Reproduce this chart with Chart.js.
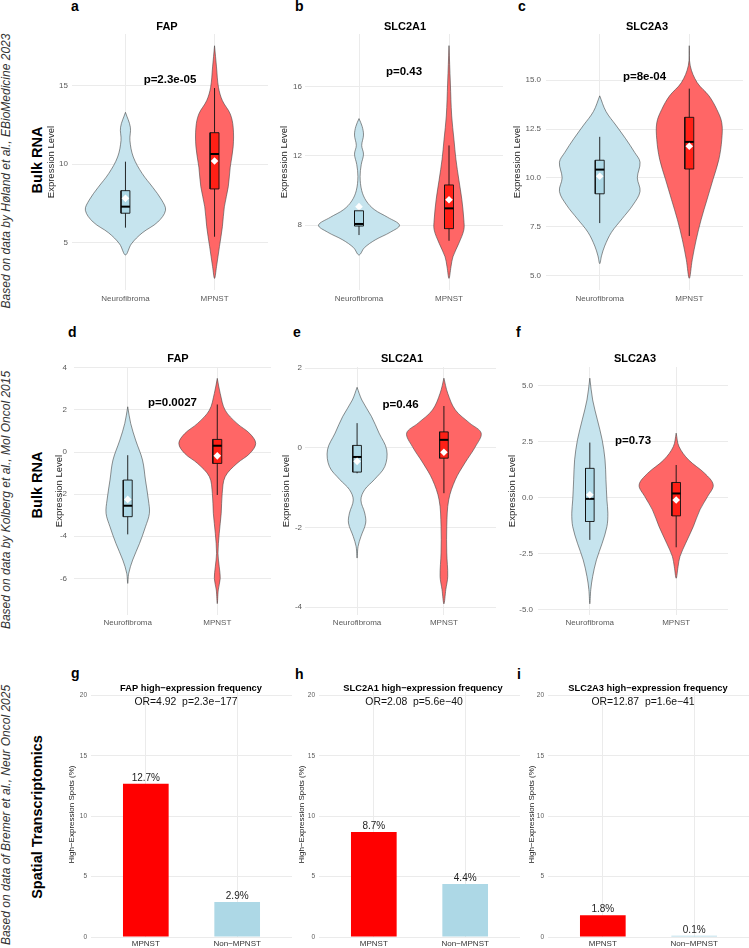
<!DOCTYPE html>
<html>
<head>
<meta charset="utf-8">
<script src="https://cdn.jsdelivr.net/npm/chart.js"></script>
<style>
html, body { margin: 0; padding: 0; background: #fff; }
#page { position: relative; width: 749px; height: 948px; overflow: hidden; font-family: "Liberation Sans", Arial, sans-serif; }
canvas { position: absolute; }
.side { position: absolute; white-space: nowrap; transform: translate(-50%, -50%) rotate(-90deg); }
.src { font-style: italic; font-size: 12px; color: #333; }
.sec { font-weight: bold; font-size: 14.5px; color: #000; }
.lt { position: absolute; font-weight: bold; font-size: 14px; line-height: 14px; color: #000; }
</style>
</head>
<body>
<div id="page">
  <div class="side src" style="left:5.5px;top:171px">Based on data by Høland et al., EBioMedicine 2023</div>
  <div class="side sec" style="left:37px;top:160px">Bulk RNA</div>
  <div class="side src" style="left:5.5px;top:500px">Based on data by Kolberg et al., Mol Oncol 2015</div>
  <div class="side sec" style="left:37px;top:485px">Bulk RNA</div>
  <div class="side src" style="left:5.5px;top:815px">Based on data of Bremer et al., Neur Oncol 2025</div>
  <div class="side sec" style="left:37px;top:817px">Spatial Transcriptomics</div>

  <div class="lt" style="left:71px;top:-1.5px">a</div>
  <div class="lt" style="left:295px;top:-1.5px">b</div>
  <div class="lt" style="left:518px;top:-1.5px">c</div>
  <div class="lt" style="left:68px;top:325px">d</div>
  <div class="lt" style="left:293px;top:325px">e</div>
  <div class="lt" style="left:516px;top:325px">f</div>
  <div class="lt" style="left:71px;top:666px">g</div>
  <div class="lt" style="left:295px;top:667px">h</div>
  <div class="lt" style="left:517px;top:667px">i</div>
</div>
<script>
const GROUPS = ['Neurofibroma', 'MPNST'];
const BAR_GROUPS = ['MPNST', 'Non\u2212MPNST'];
const GENES = ['FAP', 'SLC2A1', 'SLC2A3'];

// violin outlines, top to bottom: [expression level, half width in x units]
const holandFapNf = [[13.3,0],[12.35,0.055],[11.5,0.05],[10.45,0.088],[9.4,0.187],[8.5,0.308],[7.7,0.407],[7.05,0.45],[6.3,0.363],[5.6,0.187],[4.9,0.066],[4.2,0]];
const holandFapMp = [[17.55,0],[16.2,0.022],[14.9,0.044],[14.05,0.088],[13.2,0.176],[12.35,0.209],[11.1,0.209],[9.8,0.176],[8.55,0.154],[7.27,0.11],[6.0,0.088],[4.73,0.055],[3.45,0.022],[2.7,0]];
const holandA1Nf = [[14.15,0],[13.7,0.035],[13.2,0.05],[12.6,0.03],[12.1,0.05],[11.5,0.025],[10.8,0.012],[10.0,0.03],[9.4,0.08],[8.9,0.17],[8.45,0.32],[8.0,0.45],[7.6,0.35],[7.15,0.18],[6.7,0.06],[6.28,0]];
const holandA1Mp = [[18.36,0],[16.2,0.015],[14.3,0.03],[12.95,0.055],[11.8,0.077],[10.6,0.11],[9.47,0.143],[8.3,0.165],[7.73,0.165],[6.96,0.11],[6.18,0.044],[5.6,0.022],[4.93,0]];
const holandA3Nf = [[14.2,0],[13.4,0.07],[12.7,0.18],[12.0,0.29],[11.3,0.39],[10.8,0.45],[10.0,0.42],[9.3,0.45],[8.6,0.37],[7.9,0.25],[7.2,0.13],[6.5,0.055],[6.0,0.02],[5.6,0]];
const holandA3Mp = [[16.77,0],[15.74,0.011],[14.88,0.088],[14.2,0.22],[13.5,0.308],[12.82,0.363],[11.96,0.363],[10.93,0.33],[9.9,0.264],[8.88,0.198],[7.85,0.132],[6.82,0.077],[5.8,0.033],[4.85,0]];
const kolbergFapNf = [[2.15,0],[1.36,0.033],[0.57,0.088],[-0.38,0.165],[-1.33,0.198],[-2.28,0.231],[-2.91,0.242],[-3.55,0.198],[-4.34,0.132],[-5.13,0.055],[-5.76,0.011],[-6.24,0]];
const kolbergFapMp = [[3.5,0],[2.78,0.033],[1.99,0.088],[1.36,0.22],[0.88,0.363],[0.41,0.429],[-0.07,0.363],[-0.54,0.22],[-1.17,0.088],[-1.97,0.055],[-2.91,0.044],[-3.86,0.022],[-4.81,0.008],[-5.45,0.022],[-6.0,0.033],[-6.55,0.011],[-7.2,0]];
const kolbergA1Nf = [[1.52,0],[1.2,0.055],[0.79,0.165],[0.37,0.253],[-0.05,0.341],[-0.47,0.319],[-0.8,0.198],[-1.05,0.088],[-1.31,0.044],[-1.64,0.088],[-1.89,0.099],[-2.23,0.044],[-2.48,0.011],[-2.77,0]];
const kolbergA1Mp = [[1.75,0],[1.37,0.044],[0.95,0.132],[0.62,0.297],[0.37,0.429],[0.03,0.363],[-0.38,0.242],[-0.8,0.132],[-1.31,0.055],[-1.97,0.033],[-2.64,0.033],[-3.23,0.044],[-3.56,0.022],[-3.92,0]];
const kolbergA3Nf = [[5.33,0],[4.36,0.033],[3.47,0.088],[2.58,0.143],[1.69,0.176],[0.8,0.187],[-0.1,0.198],[-0.69,0.209],[-1.29,0.198],[-2.03,0.143],[-2.77,0.077],[-3.51,0.033],[-4.1,0.011],[-4.73,0]];
const kolbergA3Mp = [[2.88,0],[2.28,0.033],[1.69,0.143],[1.09,0.33],[0.57,0.429],[0.05,0.363],[-0.54,0.275],[-1.29,0.198],[-2.03,0.11],[-2.62,0.044],[-3.07,0.022],[-3.59,0]];

// box stats: [lower whisker, q1, median, q3, upper whisker, mean]
const holandFapNfBox = [5.94, 6.86, 7.28, 8.3, 10.15, 7.81];
const holandFapMpBox = [5.36, 8.41, 10.64, 12.0, 14.85, 10.19];
const holandA1NfBox = [7.43, 7.95, 8.07, 8.83, 9.1, 9.07];
const holandA1MpBox = [7.1, 7.8, 8.97, 10.32, 12.6, 9.47];
const holandA3NfBox = [7.68, 9.18, 10.42, 10.9, 12.1, 10.08];
const holandA3MpBox = [7.02, 10.45, 11.84, 13.1, 14.57, 11.62];
const kolbergFapNfBox = [-3.91, -3.07, -2.55, -1.33, -0.15, -2.25];
const kolbergFapMpBox = [-2.04, -0.54, 0.3, 0.6, 2.26, -0.18];
const kolbergA1NfBox = [-0.64, -0.61, -0.23, 0.06, 0.62, -0.34];
const kolbergA1MpBox = [-1.14, -0.26, 0.2, 0.4, 1.05, -0.11];
const kolbergA3NfBox = [-1.88, -1.06, -0.05, 1.31, 2.46, 0.13];
const kolbergA3MpBox = [-2.21, -0.81, 0.19, 0.68, 1.46, -0.1];

const P_LABELS = ['p=2.3e-05', 'p=0.43', 'p=8e-04', 'p=0.0027', 'p=0.46', 'p=0.73'];
const P_Y = [15.17, 16.67, 15.01, 2.19, 1.0, 2.4];

const TICKS_HOLAND = [[5, 10, 15], [8, 12, 16], [5, 7.5, 10, 12.5, 15]];
const TICKS_KOLBERG = [[-6, -4, -2, 0, 2, 4], [-4, -2, 0, 2], [-5, -2.5, 0, 2.5, 5]];
const RANGE_HOLAND = [[1.96, 18.3], [4.26, 19.03], [4.25, 17.37]];
const RANGE_KOLBERG = [[-7.74, 4.04], [-4.2, 2.03], [-5.23, 5.83]];

// spatial transcriptomics: % high-expression spots
const HIGH_MPNST = [12.7, 8.7, 1.8];
const HIGH_NON = [2.9, 4.4, 0.1];
const ODDS = ['4.92', '2.08', '12.87'];
const ODDS_P = ['2.3e\u2212177', '5.6e\u221240', '1.6e\u221241'];
const TICKS_BAR = [0, 5, 10, 15, 20];
const RANGE_BAR = [0, 20.3];

// layout (page px)
const FONT = '"Liberation Sans", Arial, sans-serif';
const ROWS = [
  {top: 0, bottom: 310, xh: 20, xpad: 4},
  {top: 318, bottom: 632, xh: 17, xpad: 3},
  {top: 655, bottom: 948, xh: 11, xpad: 2}
];
const LAYOUT = [
  [{l: 72, r: 272, t: 34, b: 290, tx: 52, pad: 4, cx: 167}, {l: 305, r: 507, t: 34, b: 290, tx: 285, pad: 3, cx: 405}, {l: 546, r: 747, t: 34, b: 290, tx: 518, pad: 5, cx: 647}],
  [{l: 74, r: 275, t: 367, b: 615, tx: 60, pad: 7, cx: 178}, {l: 305, r: 500, t: 367, b: 615, tx: 287, pad: 3, cx: 402}, {l: 538, r: 732, t: 367, b: 615, tx: 513, pad: 5, cx: 635}],
  [{l: 91, r: 292, t: 692, b: 937, tx: 72, pad: 4, cx: 191}, {l: 319, r: 520, t: 692, b: 937, tx: 302, pad: 4, cx: 423}, {l: 548, r: 749, t: 692, b: 937, tx: 532, pad: 4, cx: 648}]
];
const TITLE_BASE = [30, 362, 691];
const BW = 0.05;
const NF_FILL = 'rgb(198,228,238)', NF_BOX = '#add8e6';
const MP_FILL = '#ff6666', MP_BOX = 'rgb(255,32,22)';

Chart.defaults.font.family = FONT;

const page = document.getElementById('page');

const panelText = {
  id: 'panelText',
  afterDraw(chart, args, opts) {
    const ctx = chart.ctx;
    const xs = chart.scales.x, ys = chart.scales.y;
    opts.items.forEach(it => {
      ctx.save();
      ctx.font = it.font;
      ctx.fillStyle = it.color || '#000';
      ctx.textAlign = 'center';
      ctx.textBaseline = 'alphabetic';
      let px, py;
      if (it.page) {
        px = it.page[0] - opts.left;
        py = it.page[1] - opts.top;
      } else {
        px = xs.getPixelForValue(it.x);
        py = ys.getPixelForValue(it.y) + (it.dy || 0);
      }
      ctx.fillText(it.text, px, py);
      ctx.restore();
    });
  }
};

function place(lay, row, titleSize) {
  const left = Math.round(lay.tx - titleSize * 1.2 / 2 - 2);
  const cv = document.createElement('canvas');
  cv.width = lay.r - left;
  cv.height = row.bottom - row.top;
  cv.style.left = left + 'px';
  cv.style.top = row.top + 'px';
  page.appendChild(cv);
  return {cv, left, top: row.top, yw: lay.l - left, padTop: lay.t - row.top, padBottom: row.bottom - lay.b - row.xh};
}

function yScale(p, lay, range, ticks, title, fs, tfs) {
  const dec = ticks.some(v => !Number.isInteger(v));
  return {
    type: 'linear', min: range[0], max: range[1],
    afterBuildTicks: s => { s.ticks = ticks.map(v => ({value: v})); },
    afterFit: s => { s.width = p.yw; },
    ticks: {callback: v => dec ? v.toFixed(1) : String(v), color: '#5a5a5a', font: {size: tfs}, padding: lay.pad},
    grid: {color: '#ebebeb', drawTicks: false},
    border: {display: false},
    title: {display: true, text: title, color: '#222', font: {size: fs}, padding: {top: 2, bottom: 0}}
  };
}

function xScale(row, labels, color) {
  return {
    type: 'linear', min: 0.4, max: 2.6, offset: false,
    afterBuildTicks: s => { s.ticks = [{value: 1}, {value: 2}]; },
    afterFit: s => { s.height = row.xh; },
    ticks: {callback: v => labels[v - 1], color, font: {size: 8}, padding: row.xpad, maxRotation: 0, autoSkip: false},
    grid: {color: '#ebebeb', drawTicks: false, offset: false},
    border: {display: false}
  };
}

function violinPoints(c, prof) {
  const left = prof.map(([y, w]) => ({x: c - w, y}));
  const right = prof.slice().reverse().map(([y, w]) => ({x: c + w, y}));
  return left.concat(right.slice(1));
}

function violinDatasets(c, prof, box, fill, boxFill) {
  const [wlo, q1, med, q3, whi, mean] = box;
  return [
    {data: violinPoints(c, prof), fill: 'shape', backgroundColor: fill, borderColor: '#444', borderWidth: 0.6, tension: 0.35, pointRadius: 0, order: 10},
    {data: [{x: c, y: wlo}, {x: c, y: whi}], fill: false, borderColor: '#111', borderWidth: 0.9, pointRadius: 0, order: 9},
    {data: [{x: c - BW, y: q1}, {x: c + BW, y: q1}, {x: c + BW, y: q3}, {x: c - BW, y: q3}, {x: c - BW, y: q1}],
     fill: 'shape', backgroundColor: boxFill, borderColor: '#111', borderWidth: 0.9, pointRadius: 0, order: 8},
    {data: [{x: c - BW, y: med}, {x: c + BW, y: med}], fill: false, borderColor: '#000', borderWidth: 2, pointRadius: 0, order: 7},
    {data: [{x: c, y: mean}], showLine: false, pointStyle: 'rectRot', pointRadius: 3.8, pointBackgroundColor: '#fff', pointBorderColor: '#fff', pointBorderWidth: 0, order: 6}
  ];
}

function baseOptions(p, items) {
  return {
    responsive: false, animation: false, devicePixelRatio: 1, events: [],
    layout: {padding: {top: p.padTop, bottom: p.padBottom, left: 0, right: 0}},
    plugins: {legend: {display: false}, tooltip: {enabled: false}, panelText: {items, left: p.left, top: p.top}},
    elements: {point: {radius: 0}}
  };
}

function violinPanel(rowIdx, col, nf, nfBox, mp, mpBox, range, ticks, pIdx) {
  const row = ROWS[rowIdx], lay = LAYOUT[rowIdx][col];
  const p = place(lay, row, 9.5);
  const items = [
    {text: GENES[col], page: [lay.cx, TITLE_BASE[rowIdx]], font: 'bold 11px ' + FONT},
    {text: P_LABELS[pIdx], x: 1.5, y: P_Y[pIdx], font: 'bold 11.5px ' + FONT}
  ];
  const opts = baseOptions(p, items);
  opts.scales = {
    x: xScale(row, GROUPS, '#5a5a5a'),
    y: yScale(p, lay, range, ticks, 'Expression Level', 9.5, 8)
  };
  new Chart(p.cv, {
    type: 'line',
    data: {datasets: violinDatasets(1, nf, nfBox, NF_FILL, NF_BOX).concat(violinDatasets(2, mp, mpBox, MP_FILL, MP_BOX))},
    options: opts,
    plugins: [panelText]
  });
}

function barPanel(col) {
  const row = ROWS[2], lay = LAYOUT[2][col];
  const p = place(lay, row, 8);
  const vals = [HIGH_MPNST[col], HIGH_NON[col]];
  const items = [
    {text: GENES[col] + ' high\u2212expression frequency', page: [lay.cx, TITLE_BASE[2]], font: 'bold 9.3px ' + FONT},
    {text: 'OR=' + ODDS[col] + '  p=' + ODDS_P[col], x: 1.44, y: 19.2, font: '10.4px ' + FONT, color: '#111'}
  ];
  vals.forEach((v, i) => items.push({text: v + '%', x: i + 1, y: v, dy: -3, font: '10px ' + FONT, color: '#222'}));
  const opts = baseOptions(p, items);
  opts.scales = {
    x: xScale(row, BAR_GROUPS, '#333'),
    y: yScale(p, lay, RANGE_BAR, TICKS_BAR, 'High\u2212Expression Spots (%)', 8, 6.5)
  };
  new Chart(p.cv, {
    type: 'bar',
    data: {datasets: [{
      data: vals.map((v, i) => ({x: i + 1, y: v})),
      backgroundColor: ['#ff0000', '#add8e6'],
      barPercentage: 0.5, categoryPercentage: 1
    }]},
    options: opts,
    plugins: [panelText]
  });
}

violinPanel(0, 0, holandFapNf, holandFapNfBox, holandFapMp, holandFapMpBox, RANGE_HOLAND[0], TICKS_HOLAND[0], 0);
violinPanel(0, 1, holandA1Nf, holandA1NfBox, holandA1Mp, holandA1MpBox, RANGE_HOLAND[1], TICKS_HOLAND[1], 1);
violinPanel(0, 2, holandA3Nf, holandA3NfBox, holandA3Mp, holandA3MpBox, RANGE_HOLAND[2], TICKS_HOLAND[2], 2);
violinPanel(1, 0, kolbergFapNf, kolbergFapNfBox, kolbergFapMp, kolbergFapMpBox, RANGE_KOLBERG[0], TICKS_KOLBERG[0], 3);
violinPanel(1, 1, kolbergA1Nf, kolbergA1NfBox, kolbergA1Mp, kolbergA1MpBox, RANGE_KOLBERG[1], TICKS_KOLBERG[1], 4);
violinPanel(1, 2, kolbergA3Nf, kolbergA3NfBox, kolbergA3Mp, kolbergA3MpBox, RANGE_KOLBERG[2], TICKS_KOLBERG[2], 5);
barPanel(0);
barPanel(1);
barPanel(2);
</script>
</body>
</html>
